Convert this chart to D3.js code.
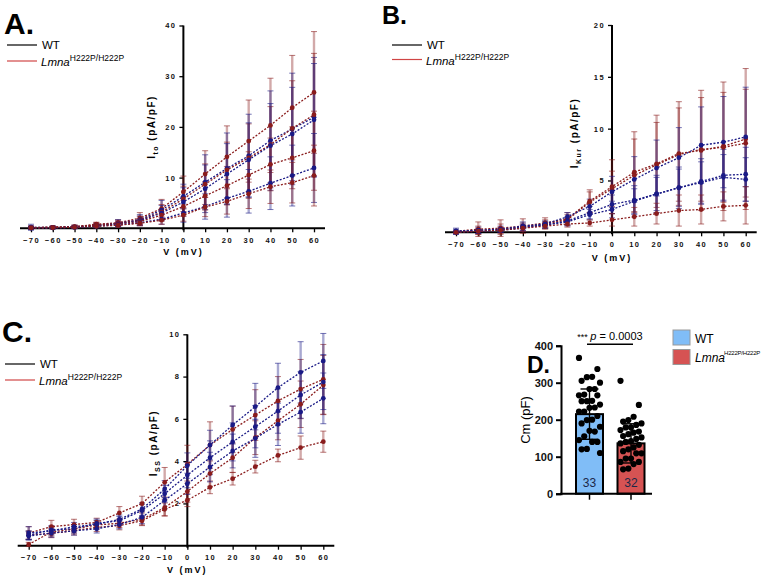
<!DOCTYPE html>
<html><head><meta charset="utf-8">
<script src="https://cdn.jsdelivr.net/npm/d3@7"></script>
<style>
body{margin:0;background:#fff}
svg{display:block;font-family:"Liberation Sans",Arial,sans-serif}
</style>
</head><body>
<svg width="765" height="577"></svg>
<script>
const volts = [-70, -60, -50, -40, -30, -20, -10, 0, 10, 20, 30, 40, 50, 60];

// Panel A: Ito
const itoWt1 = [0.2, 0.2, 0.3, 0.6, 1.0, 1.7, 3.6, 6.3, 9.1, 11.8, 14.3, 17.3, 19.6, 21.9];
const itoWt2 = [0.1, 0.1, 0.2, 0.5, 0.9, 1.5, 3.0, 5.2, 7.8, 10.7, 13.5, 16.3, 18.6, 21.4];
const itoWt3 = [0.1, 0.1, 0.2, 0.4, 0.7, 1.1, 1.8, 3.0, 4.3, 5.9, 7.3, 8.9, 10.4, 11.9];
const itoLm1 = [0.2, 0.2, 0.3, 0.8, 1.1, 2.0, 3.9, 7.2, 10.7, 14.1, 17.2, 20.3, 23.8, 26.8];
const itoLm2 = [0.1, 0.2, 0.3, 0.7, 1.0, 1.6, 3.2, 5.8, 8.7, 11.5, 13.9, 16.5, 19.7, 22.4];
const itoLm3 = [0.1, 0.2, 0.3, 0.6, 0.9, 1.3, 2.6, 4.3, 6.4, 8.4, 10.5, 12.6, 13.9, 15.3];
const itoLm4 = [0.1, 0.1, 0.2, 0.4, 0.6, 1.0, 1.6, 2.6, 4.2, 5.3, 6.8, 8.2, 9.0, 10.4];
const itoWt1Err = [0.6, 0.3, 0.3, 0.4, 0.7, 1.0, 1.9, 2.4, 5.4, 7.0, 8.2, 9.8, 11.0, 11.8];
const itoWt2Err = [0.3, 0.2, 0.3, 0.3, 0.5, 0.9, 1.5, 2.8, 4.7, 6.0, 7.3, 8.3, 9.2, 11.1];
const itoWt3Err = [0.3, 0.2, 0.2, 0.3, 0.4, 0.6, 1.0, 1.8, 2.5, 3.7, 4.3, 5.2, 6.0, 6.8];
const itoLm1Err = [0.3, 0.2, 0.3, 0.4, 0.6, 1.1, 1.8, 3.1, 4.6, 6.1, 8.1, 9.3, 10.3, 12.0];
const itoLm2Err = [0.3, 0.2, 0.3, 0.4, 0.5, 0.8, 1.5, 2.5, 4.0, 5.5, 6.7, 7.5, 9.4, 12.1];
const itoLm3Err = [0.2, 0.2, 0.3, 0.3, 0.4, 0.7, 1.2, 1.9, 2.8, 3.8, 4.6, 5.2, 6.1, 7.8];
const itoLm4Err = [0.2, 0.2, 0.2, 0.3, 0.4, 0.5, 0.8, 1.2, 1.9, 2.5, 2.9, 3.3, 4.0, 6.0];

// Panel B: IKur
const kurWt1 = [0.1, 0.2, 0.3, 0.6, 0.8, 1.5, 2.5, 3.9, 5.1, 6.2, 7.2, 8.4, 8.7, 9.2];
const kurWt2 = [0.1, 0.1, 0.2, 0.5, 0.7, 1.1, 1.9, 2.7, 3.1, 3.7, 4.3, 4.9, 5.5, 5.6];
const kurWt3 = [0.0, 0.1, 0.2, 0.4, 0.7, 1.0, 1.7, 2.2, 3.0, 3.7, 4.3, 4.8, 5.3, 5.1];
const kurLm1 = [0.1, 0.3, 0.4, 0.6, 0.9, 1.3, 3.0, 4.4, 5.8, 6.6, 7.6, 7.9, 8.3, 9.0];
const kurLm2 = [0.0, 0.2, 0.3, 0.5, 0.8, 1.2, 2.9, 4.2, 5.5, 6.5, 7.5, 8.0, 8.2, 8.6];
const kurLm3 = [0.0, 0.1, 0.2, 0.4, 0.6, 0.8, 0.9, 1.2, 1.5, 1.8, 2.1, 2.2, 2.5, 2.6];
const kurWt1Err = [0.3, 0.3, 0.3, 0.4, 0.3, 0.4, 0.7, 1.5, 2.2, 2.7, 2.9, 3.7, 4.4, 4.8];
const kurWt2Err = [0.2, 0.2, 0.2, 0.3, 0.3, 0.4, 0.6, 0.9, 1.4, 1.8, 2.0, 2.2, 2.5, 2.6];
const kurWt3Err = [0.2, 0.2, 0.2, 0.3, 0.3, 0.4, 0.5, 0.8, 1.2, 1.6, 1.8, 2.0, 2.2, 2.1];
const kurLm1Err = [0.1, 0.7, 0.8, 0.7, 0.5, 0.6, 1.1, 2.6, 3.9, 4.7, 5.0, 5.8, 6.2, 6.8];
const kurLm2Err = [0.1, 0.4, 0.5, 0.4, 0.4, 0.5, 1.0, 1.7, 3.5, 4.1, 4.5, 5.0, 5.3, 5.2];
const kurLm3Err = [0.1, 0.3, 0.3, 0.3, 0.3, 0.3, 0.3, 0.6, 0.9, 1.0, 1.5, 1.4, 1.4, 1.8];

// Panel C: ISS
const issWt1 = [0.6, 0.7, 0.9, 1.0, 1.25, 1.73, 2.68, 3.79, 4.76, 5.71, 6.58, 7.48, 8.2, 8.74];
const issWt2 = [0.5, 0.75, 0.8, 1.06, 1.18, 1.66, 2.46, 3.34, 4.16, 4.91, 5.63, 6.37, 7.13, 7.74];
const issWt3 = [0.46, 0.6, 0.7, 0.8, 1.0, 1.34, 2.15, 2.93, 3.72, 4.48, 5.08, 5.74, 6.32, 6.97];
const issLm1 = [0.6, 0.9, 1.0, 1.1, 1.55, 1.99, 3.0, 3.85, 4.76, 5.5, 6.18, 6.85, 7.41, 7.87];
const issLm2 = [0.06, 0.65, 0.8, 0.98, 1.06, 1.25, 1.8, 2.56, 3.41, 4.16, 5.11, 5.91, 6.69, 7.6];
const issLm3 = [0.5, 0.58, 0.71, 0.87, 0.95, 1.18, 1.72, 2.15, 2.76, 3.17, 3.74, 4.27, 4.64, 4.92];
const issWt1Err = [0.3, 0.2, 0.2, 0.2, 0.2, 0.3, 0.4, 0.6, 0.7, 0.9, 1.1, 1.15, 1.45, 1.3];
const issWt2Err = [0.2, 0.2, 0.2, 0.2, 0.2, 0.3, 0.4, 0.6, 0.8, 0.9, 1.0, 1.05, 1.1, 1.3];
const issWt3Err = [0.2, 0.2, 0.2, 0.2, 0.2, 0.3, 0.4, 0.5, 0.7, 0.8, 0.9, 1.0, 1.0, 1.2];
const issLm1Err = [0.3, 0.3, 0.25, 0.2, 0.3, 0.35, 0.7, 0.9, 1.1, 1.1, 1.2, 1.15, 1.4, 1.65];
const issLm2Err = [0.1, 0.2, 0.2, 0.2, 0.2, 0.3, 0.4, 0.5, 0.6, 0.7, 0.8, 0.9, 1.1, 1.4];
const issLm3Err = [0.2, 0.2, 0.2, 0.2, 0.2, 0.2, 0.3, 0.3, 0.3, 0.3, 0.3, 0.3, 0.55, 0.5];

// Panel D: Cm
const cmGroups = ['WT', 'Lmna'];
const cmMeans = [215, 136];
const cmSd = [68, 53];
const cmN = [33, 32];
const cmWtCells = [367, 337, 316, 315, 305, 300, 283, 283, 268, 266, 266, 251, 250, 250, 241, 233, 232,
  222, 222, 210, 200, 199, 190, 181, 168, 170, 155, 145, 140, 140, 121, 120, 110];
const cmLmCells = [305, 240, 208, 199, 195, 190, 186, 179, 179, 172, 168, 165, 161, 156, 152, 148, 142,
  140, 136, 132, 125, 120, 115, 109, 109, 95, 95, 86, 86, 80, 68, 66];
const cmTicks = [0, 100, 200, 300, 400];

const WT_COL = '#1a1a86';
const LM_COL = '#8a1c1c';

const svg = d3.select('svg');

function ivPanel(cfg) {
  const x = d3.scaleLinear().domain([-70, 60]).range(cfg.xr);
  const y = d3.scaleLinear().domain([0, cfg.ymax]).range(cfg.yr);
  const g = svg.append('g');

  // axes
  const yAx = g.append('g')
    .attr('transform', `translate(${x(0)},0)`)
    .call(d3.axisLeft(y).tickValues(cfg.yticks).tickSize(4).tickPadding(3));
  const xAx = g.append('g')
    .attr('transform', `translate(0,${y(0)})`)
    .call(d3.axisBottom(x).tickValues(volts).tickSize(4).tickPadding(5));
  [xAx, yAx].forEach(a => {
    a.select('.domain').remove();
    a.selectAll('line').attr('stroke', '#000').attr('stroke-width', 1.3);
    a.selectAll('text').attr('font-size', 7.5).attr('font-weight', 'bold')
      .attr('letter-spacing', 1.4).attr('fill', '#111');
  });
  g.append('line')
    .attr('x1', x(-70) - 11).attr('x2', x(60) + 11)
    .attr('y1', y(0)).attr('y2', y(0))
    .attr('stroke', '#000').attr('stroke-width', 2);
  g.append('line')
    .attr('x1', x(0)).attr('x2', x(0))
    .attr('y1', y(cfg.ymax)).attr('y2', y(0) + 2)
    .attr('stroke', '#000').attr('stroke-width', 2);

  // series
  const line = d3.line().x(d => x(d.v)).y(d => y(d.m));
  cfg.series.forEach(s => {
    const pts = volts.map((v, i) => ({ v, m: s.values[i], e: s.errs[i] }));
    const sg = g.append('g');
    sg.selectAll('line.eb').data(pts).join('line')
      .attr('x1', d => x(d.v)).attr('x2', d => x(d.v))
      .attr('y1', d => y(d.m - d.e)).attr('y2', d => y(d.m + d.e))
      .attr('stroke', s.color).attr('stroke-opacity', 0.38).attr('stroke-width', 2.4);
    ['top', 'bot'].forEach(k => {
      sg.selectAll('line.cap' + k).data(pts).join('line')
        .attr('x1', d => x(d.v) - 3).attr('x2', d => x(d.v) + 3)
        .attr('y1', d => y(k === 'top' ? d.m + d.e : d.m - d.e))
        .attr('y2', d => y(k === 'top' ? d.m + d.e : d.m - d.e))
        .attr('stroke', s.color).attr('stroke-opacity', 0.6).attr('stroke-width', 1);
    });
    s.pts = pts;
  });
  cfg.series.forEach(s => {
    g.append('path').datum(s.pts).attr('d', line)
      .attr('fill', 'none').attr('stroke', s.color).attr('stroke-width', 1.3)
      .attr('stroke-dasharray', '2,1.6');
  });
  cfg.series.forEach(s => {
    g.append('g').selectAll('circle').data(s.pts).join('circle')
      .attr('cx', d => x(d.v)).attr('cy', d => y(d.m)).attr('r', 2.4)
      .attr('fill', s.color);
  });

  // axis titles
  g.append('text')
    .attr('x', x(0)).attr('y', cfg.xlabY)
    .attr('text-anchor', 'middle').attr('font-size', 9).attr('font-weight', 'bold')
    .attr('letter-spacing', 2).text('V (mV)');
  const yl = g.append('text')
    .attr('transform', `translate(${cfg.ylabX},${cfg.ylabY}) rotate(-90)`)
    .attr('text-anchor', 'middle').attr('font-size', 10).attr('font-weight', 'bold')
    .attr('letter-spacing', 1.5);
  yl.append('tspan').text('I');
  yl.append('tspan').attr('font-size', 7).attr('dy', 3).text(cfg.sub);
  yl.append('tspan').attr('dy', -3).text(' (pA/pF)');

  // panel letter
  svg.append('text').attr('x', cfg.letter[0]).attr('y', cfg.letter[1])
    .attr('font-size', cfg.letter[2]).attr('font-weight', 'bold').text(cfg.letter[3]);

  // legend
  const lg = svg.append('g').attr('transform', `translate(${cfg.leg[0]},${cfg.leg[1]})`);
  lg.append('line').attr('x1', 0).attr('x2', 30).attr('y1', 0).attr('y2', 0)
    .attr('stroke', '#000').attr('stroke-width', 1.2);
  lg.append('text').attr('x', 35).attr('y', 4).attr('font-size', 11.5).text('WT');
  lg.append('line').attr('x1', 0).attr('x2', 30).attr('y1', cfg.leg[2]).attr('y2', cfg.leg[2])
    .attr('stroke', '#d04545').attr('stroke-width', 1.2);
  const lt = lg.append('text').attr('x', 34).attr('y', cfg.leg[2] + 5).attr('font-size', 11.5);
  lt.append('tspan').attr('font-style', 'italic').text('Lmna');
  lt.append('tspan').attr('font-size', 8.5).attr('dy', -5).text('H222P/H222P');
}

ivPanel({
  xr: [31, 314], yr: [228.3, 25.5], ymax: 40, yticks: [10, 20, 30, 40],
  xlabY: 255, ylabX: 155, ylabY: 127, sub: 'to',
  letter: [4, 34, 30, 'A.'], leg: [7, 45, 16],
  series: [
    { values: itoLm1, errs: itoLm1Err, color: LM_COL },
    { values: itoWt1, errs: itoWt1Err, color: WT_COL },
    { values: itoLm2, errs: itoLm2Err, color: LM_COL },
    { values: itoWt2, errs: itoWt2Err, color: WT_COL },
    { values: itoLm3, errs: itoLm3Err, color: LM_COL },
    { values: itoWt3, errs: itoWt3Err, color: WT_COL },
    { values: itoLm4, errs: itoLm4Err, color: LM_COL }
  ]
});

ivPanel({
  xr: [456, 745.7], yr: [232.3, 25], ymax: 20, yticks: [5, 10, 15, 20],
  xlabY: 261, ylabX: 578, ylabY: 133, sub: 'Kur',
  letter: [382, 24, 25, 'B.'], leg: [392, 45, 14.5],
  series: [
    { values: kurLm1, errs: kurLm1Err, color: LM_COL },
    { values: kurLm2, errs: kurLm2Err, color: LM_COL },
    { values: kurWt1, errs: kurWt1Err, color: WT_COL },
    { values: kurWt2, errs: kurWt2Err, color: WT_COL },
    { values: kurWt3, errs: kurWt3Err, color: WT_COL },
    { values: kurLm3, errs: kurLm3Err, color: LM_COL }
  ]
});

ivPanel({
  xr: [28.7, 323.3], yr: [545.7, 334.3], ymax: 10, yticks: [2, 4, 6, 8, 10],
  xlabY: 573, ylabX: 157, ylabY: 443, sub: 'SS',
  letter: [2, 342, 30, 'C.'], leg: [5, 364, 16],
  series: [
    { values: issLm1, errs: issLm1Err, color: LM_COL },
    { values: issLm2, errs: issLm2Err, color: LM_COL },
    { values: issLm3, errs: issLm3Err, color: LM_COL },
    { values: issWt1, errs: issWt1Err, color: WT_COL },
    { values: issWt2, errs: issWt2Err, color: WT_COL },
    { values: issWt3, errs: issWt3Err, color: WT_COL }
  ]
});

// Panel D
(function () {
  const x = d3.scalePoint().domain(cmGroups).range([589.5, 631]);
  const y = d3.scaleLinear().domain([0, 400]).range([493.7, 345.7]);
  const g = svg.append('g');
  const fills = ['#80bdf7', '#d65353'];
  const bw = 27;

  g.selectAll('rect.bar').data(cmGroups).join('rect')
    .attr('x', d => x(d) - bw / 2).attr('width', bw)
    .attr('y', (d, i) => y(cmMeans[i])).attr('height', (d, i) => y(0) - y(cmMeans[i]))
    .attr('fill', (d, i) => fills[i]).attr('stroke', '#000').attr('stroke-width', 2);

  const cells = [cmWtCells, cmLmCells];
  cells.forEach((arr, gi) => {
    g.append('g').selectAll('circle').data(arr).join('circle')
      .attr('cx', (d, i) => x(cmGroups[gi]) + (((i * 7) % 9) - 4) / 4 * 10.5)
      .attr('cy', d => y(d)).attr('r', 3.1).attr('fill', '#000');
  });

  cmGroups.forEach((grp, i) => {
    const cx = x(grp);
    const hi = y(cmMeans[i] + cmSd[i]), lo = y(cmMeans[i] - cmSd[i]);
    g.append('line').attr('x1', cx).attr('x2', cx).attr('y1', hi).attr('y2', lo)
      .attr('stroke', '#000').attr('stroke-width', 1.4);
    [hi, lo].forEach(yy => g.append('line').attr('x1', cx - 9).attr('x2', cx + 9)
      .attr('y1', yy).attr('y2', yy).attr('stroke', '#000').attr('stroke-width', 1.4));
    g.append('text').attr('x', cx).attr('y', 487).attr('text-anchor', 'middle')
      .attr('font-size', 12).attr('fill', '#1c2848').text(cmN[i]);
  });

  const yAx = g.append('g').attr('transform', `translate(561,0)`)
    .call(d3.axisLeft(y).tickValues(cmTicks).tickSize(5).tickPadding(3));
  yAx.select('.domain').attr('stroke-width', 2);
  yAx.selectAll('line').attr('stroke-width', 2);
  yAx.selectAll('text').attr('font-size', 11).attr('font-weight', 'bold').attr('fill', '#111');
  g.append('line').attr('x1', 560).attr('x2', 652).attr('y1', y(0)).attr('y2', y(0))
    .attr('stroke', '#000').attr('stroke-width', 2);
  g.selectAll('line.xt').data(cmGroups).join('line')
    .attr('x1', d => x(d)).attr('x2', d => x(d)).attr('y1', y(0)).attr('y2', y(0) + 6)
    .attr('stroke', '#000').attr('stroke-width', 1.5);

  g.append('text').attr('transform', `translate(530,420) rotate(-90)`)
    .attr('text-anchor', 'middle').attr('font-size', 13).text('Cm (pF)');

  g.append('line').attr('x1', 587).attr('x2', 633).attr('y1', 344.3).attr('y2', 344.3)
    .attr('stroke', '#000').attr('stroke-width', 1.5);
  const pt = g.append('text').attr('x', 610).attr('y', 339.5).attr('text-anchor', 'middle')
    .attr('font-size', 11);
  pt.append('tspan').attr('font-size', 9).text('*** ');
  pt.append('tspan').attr('font-style', 'italic').text('p');
  pt.append('tspan').text(' = 0.0003');

  // legend
  const lg = g.append('g');
  lg.selectAll('rect').data(cmGroups).join('rect')
    .attr('x', 673).attr('y', (d, i) => 330 + i * 19.5).attr('width', 17).attr('height', 15)
    .attr('fill', (d, i) => fills[i]).attr('stroke', '#999').attr('stroke-width', 1);
  lg.append('text').attr('x', 695).attr('y', 343).attr('font-size', 12).text('WT');
  lg.append('text').attr('x', 695).attr('y', 362).attr('font-size', 12)
    .attr('font-style', 'italic').text('Lmna');
  lg.append('text').attr('x', 724).attr('y', 355).attr('font-size', 6)
    .attr('letter-spacing', -0.2).text('H222P/H222P');

  svg.append('text').attr('x', 527).attr('y', 373).attr('font-size', 23)
    .attr('font-weight', 'bold').text('D.');
})();
</script>
</body></html>
